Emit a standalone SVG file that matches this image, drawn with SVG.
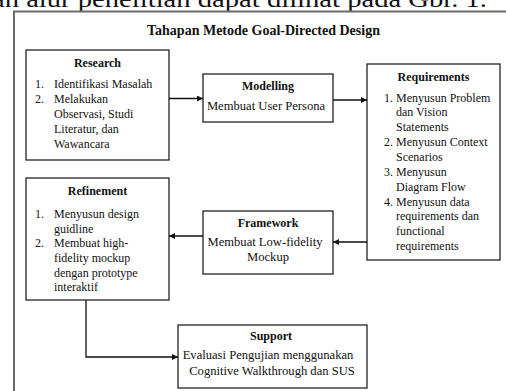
<svg xmlns="http://www.w3.org/2000/svg" width="506" height="391" viewBox="0 0 506 391">
<defs>
<marker id="ah" markerUnits="userSpaceOnUse" markerWidth="7" markerHeight="6" refX="6" refY="3" orient="auto">
<path d="M0,0 L6,3 L0,6 Z" fill="#111"/>
</marker>
<style>
.box{fill:#fff;stroke:#222;stroke-width:1.3}
.t{font-family:"Liberation Serif","Times New Roman",serif;font-size:12px;fill:#111}
.h{font-family:"Liberation Serif","Times New Roman",serif;font-size:12px;font-weight:bold;fill:#111;text-anchor:middle}
.c{text-anchor:middle;font-size:12.6px}
.conn{fill:none;stroke:#111;stroke-width:1.3;marker-end:url(#ah)}
</style>
</defs>
<rect width="506" height="391" fill="#fff"/>
<text x="-8" y="7" textLength="495" lengthAdjust="spacingAndGlyphs" style="font-family:'Liberation Serif','Times New Roman',serif;font-size:23px;fill:#111">an alur penelitian dapat dilihat pada Gbr. 1.</text>
<rect x="14" y="11.5" width="494" height="400" fill="none" stroke="#6a6a6a" stroke-width="2"/>
<text x="263.5" y="35" style="font-family:'Liberation Serif','Times New Roman',serif;font-size:14px;font-weight:bold;fill:#111;text-anchor:middle">Tahapan Metode Goal-Directed Design</text>

<g id="research">
<rect class="box" x="26" y="50" width="143" height="110"/>
<text class="h" x="97.5" y="67">Research</text>
<text class="t" x="35" y="88">1.</text><text class="t" x="54" y="88">Identifikasi Masalah</text>
<text class="t" x="35" y="103">2.</text><text class="t" x="54" y="103">Melakukan</text>
<text class="t" x="54" y="118">Observasi, Studi</text>
<text class="t" x="54" y="133">Literatur, dan</text>
<text class="t" x="54" y="148">Wawancara</text>
</g>

<g id="modelling">
<rect class="box" x="203" y="74" width="130" height="48"/>
<text class="h" x="268" y="90">Modelling</text>
<text class="t c" x="266" y="110">Membuat User Persona</text>
</g>

<g id="requirements">
<rect class="box" x="367" y="64" width="133" height="196"/>
<text class="h" x="433.5" y="81">Requirements</text>
<text class="t" x="384" y="101.5">1.</text><text class="t" x="396" y="101.5">Menyusun Problem</text>
<text class="t" x="396" y="116.4">dan Vision</text>
<text class="t" x="396" y="131.2">Statements</text>
<text class="t" x="384" y="146.1">2.</text><text class="t" x="396" y="146.1">Menyusun Context</text>
<text class="t" x="396" y="160.9">Scenarios</text>
<text class="t" x="384" y="175.8">3.</text><text class="t" x="396" y="175.8">Menyusun</text>
<text class="t" x="396" y="190.6">Diagram Flow</text>
<text class="t" x="384" y="205.5">4.</text><text class="t" x="396" y="205.5">Menyusun data</text>
<text class="t" x="396" y="220.3">requirements dan</text>
<text class="t" x="396" y="235.2">functional</text>
<text class="t" x="396" y="250">requirements</text>
</g>

<g id="framework">
<rect class="box" x="203" y="211" width="130" height="63"/>
<text class="h" x="268" y="227">Framework</text>
<text class="t c" x="265" y="246">Membuat Low-fidelity</text>
<text class="t c" x="268" y="261">Mockup</text>
</g>

<g id="refinement">
<rect class="box" x="26" y="178" width="143" height="122"/>
<text class="h" x="97.5" y="195">Refinement</text>
<text class="t" x="35" y="218">1.</text><text class="t" x="54" y="218">Menyusun design</text>
<text class="t" x="54" y="232.7">guidline</text>
<text class="t" x="35" y="247.3">2.</text><text class="t" x="54" y="247.3">Membuat high-</text>
<text class="t" x="54" y="262">fidelity mockup</text>
<text class="t" x="54" y="276.6">dengan prototype</text>
<text class="t" x="54" y="291.3">interaktif</text>
</g>

<g id="support">
<rect class="box" x="178" y="325" width="189" height="63"/>
<text class="h" x="271" y="340">Support</text>
<text class="t c" x="268" y="359">Evaluasi Pengujian menggunakan</text>
<text class="t c" x="272" y="374.5">Cognitive Walkthrough dan SUS</text>
</g>

<g id="connectors">
<path class="conn" d="M169,98.5 H203"/>
<path class="conn" d="M333,100 H367"/>
<path class="conn" d="M367,242 H333"/>
<path class="conn" d="M203,236 H169"/>
<path class="conn" d="M86,300 V357 H178"/>
</g>
</svg>
